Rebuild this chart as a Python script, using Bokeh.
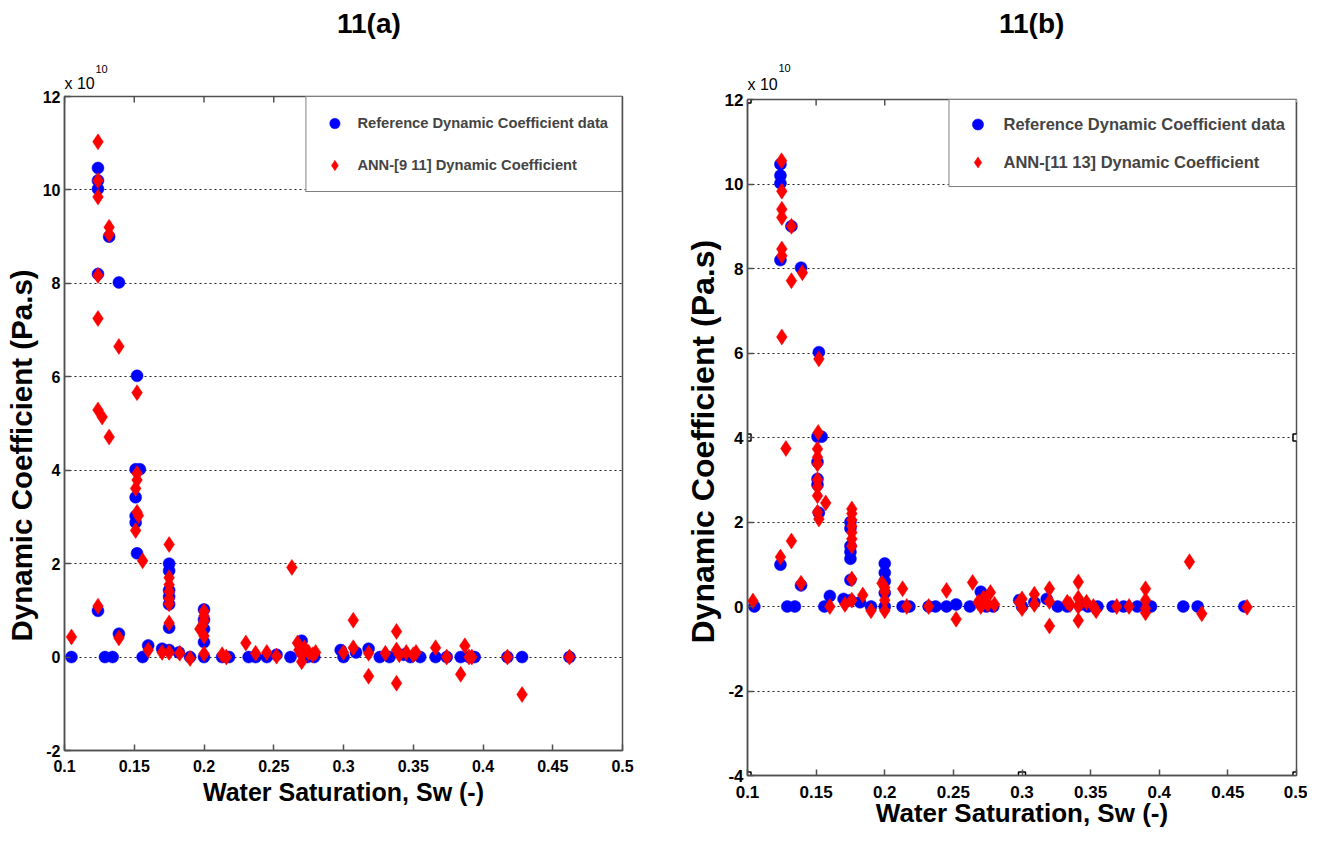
from bokeh.plotting import figure
from bokeh.models import Title, FixedTicker, Range1d, Div
from bokeh.layouts import row, column
from bokeh.embed import file_html
from bokeh.resources import INLINE

# ---------------- data (values in units of 1e10 Pa.s) ----------------
titles = ["11(a)", "11(b)"]
x_label = "Water Saturation, Sw (-)"
y_label = "Dynamic Coefficient (Pa.s)"
ref_legend = "Reference Dynamic Coefficient data"
ann_legends = ["ANN-[9 11] Dynamic Coefficient", "ANN-[11 13] Dynamic Coefficient"]
multiplier_base = "x 10"
multiplier_exp = "10"

x_ticks = [0.1, 0.15, 0.2, 0.25, 0.3, 0.35, 0.4, 0.45, 0.5]
x_tick_labels = ["0.1", "0.15", "0.2", "0.25", "0.3", "0.35", "0.4", "0.45", "0.5"]
y_ticks_a = [-2, 0, 2, 4, 6, 8, 10, 12]
y_ticks_b = [-4, -2, 0, 2, 4, 6, 8, 10, 12]

ref_sw = [0.105, 0.124, 0.124, 0.124, 0.124, 0.124, 0.129, 0.1345, 0.132, 0.139,
          0.139, 0.152, 0.151, 0.154, 0.151, 0.151, 0.151, 0.152, 0.156, 0.16,
          0.17, 0.175, 0.175, 0.175, 0.175, 0.175, 0.175, 0.175, 0.182, 0.19,
          0.2, 0.2, 0.2, 0.2, 0.2, 0.213, 0.218, 0.232, 0.237, 0.245,
          0.252, 0.262, 0.27, 0.27, 0.274, 0.279, 0.298, 0.3, 0.309, 0.318,
          0.326, 0.333, 0.343, 0.348, 0.355, 0.366, 0.374, 0.384, 0.39, 0.394,
          0.4175, 0.428, 0.462]
ref_dc = [0.0, 10.47, 10.2, 10.02, 8.2, 0.99, 0.0, 0.0, 9.0, 8.02,
          0.5, 6.02, 4.02, 4.02, 3.42, 3.02, 2.88, 2.22, 0.0, 0.25,
          0.18, 2.0, 1.85, 1.43, 1.29, 1.13, 0.63, 0.15, 0.1, 0.0,
          1.02, 0.8, 0.6, 0.32, 0.0, 0.0, 0.0, 0.0, 0.0, 0.0,
          0.05, 0.0, 0.35, 0.1, 0.0, 0.0, 0.15, 0.0, 0.1, 0.18,
          0.0, 0.0, 0.05, 0.0, 0.0, 0.0, 0.0, 0.0, 0.0, 0.0,
          0.0, 0.0, 0.0]

ann_a_sw = [0.105, 0.124, 0.124, 0.124, 0.124, 0.124, 0.124, 0.127, 0.132, 0.124,
            0.132, 0.132, 0.139, 0.139, 0.152, 0.152, 0.152, 0.151, 0.152, 0.153,
            0.151, 0.156, 0.16, 0.175, 0.175, 0.175, 0.175, 0.175, 0.175, 0.175,
            0.17, 0.175, 0.1826, 0.19, 0.2, 0.2, 0.2, 0.199, 0.197, 0.2,
            0.2, 0.213, 0.216, 0.23, 0.237, 0.245, 0.252, 0.263, 0.267, 0.268,
            0.27, 0.27, 0.272, 0.275, 0.278, 0.28, 0.3, 0.307, 0.307, 0.318,
            0.318, 0.33, 0.338, 0.338, 0.338, 0.34, 0.345, 0.35, 0.352, 0.366,
            0.374, 0.384, 0.387, 0.39, 0.392, 0.4175, 0.428, 0.462]
ann_a_dc = [0.43, 11.03, 10.2, 9.85, 8.17, 7.25, 5.29, 5.14, 4.71, 1.09,
            9.2, 9.05, 6.65, 0.41, 5.66, 3.93, 3.79, 3.61, 3.1, 3.03,
            2.71, 2.06, 0.15, 2.41, 1.7, 1.55, 1.4, 1.25, 1.14, 0.73,
            0.1, 0.1, 0.08, -0.03, 0.98, 0.88, 0.78, 0.68, 0.6, 0.45,
            0.07, 0.05, 0.0, 0.3, 0.08, 0.1, 0.02, 1.92, 0.3, 0.15,
            0.05, -0.1, 0.2, 0.1, 0.05, 0.1, 0.1, 0.79, 0.2, 0.08,
            -0.41, 0.08, 0.55, 0.15, -0.56, 0.05, 0.1, 0.05, 0.1, 0.2,
            0.0, -0.37, 0.24, 0.0, 0.0, 0.0, -0.8, 0.0]

ann_b_sw = [0.104, 0.1248, 0.125, 0.125, 0.125, 0.125, 0.125, 0.125, 0.124, 0.132,
            0.132, 0.14, 0.128, 0.132, 0.139, 0.152, 0.1515, 0.151, 0.151, 0.151,
            0.151, 0.151, 0.151, 0.151, 0.152, 0.157, 0.16, 0.176, 0.176, 0.176,
            0.176, 0.176, 0.176, 0.176, 0.176, 0.171, 0.176, 0.184, 0.19, 0.198,
            0.2, 0.2, 0.2, 0.2, 0.213, 0.216, 0.232, 0.245, 0.252, 0.264,
            0.268, 0.27, 0.272, 0.275, 0.277, 0.28, 0.298, 0.3, 0.3, 0.309,
            0.309, 0.32, 0.32, 0.32, 0.333, 0.335, 0.341, 0.341, 0.341, 0.341,
            0.347, 0.352, 0.354, 0.369, 0.378, 0.39, 0.39, 0.39, 0.39, 0.422,
            0.431, 0.464]
ann_b_dc = [0.13, 10.55, 9.83, 9.4, 9.21, 8.46, 8.3, 6.38, 1.17, 9.0,
            7.71, 7.9, 3.74, 1.55, 0.55, 5.86, 4.12, 3.73, 3.53, 3.37,
            3.0, 2.83, 2.62, 2.23, 2.07, 2.45, 0.0, 2.31, 2.2, 2.05,
            1.9, 1.75, 1.6, 1.43, 0.65, 0.05, 0.15, 0.27, -0.1, 0.55,
            0.45, 0.35, 0.15, -0.1, 0.42, 0.0, 0.0, 0.38, -0.3, 0.57,
            0.1, 0.0, 0.2, 0.05, 0.33, 0.05, 0.1, 0.18, -0.05, 0.29,
            0.05, 0.42, 0.12, -0.46, 0.1, 0.05, 0.58, 0.2, 0.0, -0.33,
            0.1, 0.0, -0.1, 0.0, 0.0, 0.42, 0.15, -0.05, -0.15, 1.06,
            -0.17, -0.02]

FONT = "Liberation Sans"
AXC = "#505050"


def header(title, width, height, o):
    html = (
        f'<div style="position:relative;width:{width}px;height:{height}px;'
        f"font-family:'Liberation Sans',Arial,sans-serif;color:black;margin:0;padding:0\">"
        f'<span style="position:absolute;left:{o["tx"]}px;top:{o["ty"]}px;font-size:28px;'
        f'font-weight:bold;line-height:32px;white-space:nowrap">{title}</span>'
        f'</div>'
    )
    return Div(text=html, width=width, height=height, margin=0)


def make_panel(ann_sw, ann_dc, ann_legend, y_ticks, width, height, borders, o):
    bl, br, bt, bb = borders
    ymin, ymax = y_ticks[0], y_ticks[-1]
    p = figure(width=width, height=height, output_backend="svg",
               toolbar_location=None, x_range=Range1d(0.1, 0.5),
               y_range=Range1d(ymin, ymax),
               min_border_left=bl, min_border_right=br,
               min_border_top=bt, min_border_bottom=bb, margin=0)
    p.background_fill_color = "white"
    p.border_fill_color = "white"
    p.outline_line_color = AXC
    p.outline_line_width = 1.5

    p.xgrid.visible = False
    p.ygrid.ticker = FixedTicker(ticks=y_ticks)
    p.ygrid.grid_line_color = "#222222"
    p.ygrid.grid_line_dash = "2 3"
    p.ygrid.grid_line_width = 1.2

    xa = p.xaxis[0]
    ya = p.yaxis[0]
    xa.ticker = FixedTicker(ticks=x_ticks)
    xa.major_label_overrides = {t: s for t, s in zip(x_ticks, x_tick_labels)}
    ya.ticker = FixedTicker(ticks=y_ticks)
    ya.major_label_overrides = {t: str(t) for t in y_ticks}
    for ax in (xa, ya):
        ax.axis_line_color = AXC
        ax.axis_line_width = 1.5
        ax.major_tick_in = 6
        ax.major_tick_out = 0
        ax.minor_tick_line_color = None
        ax.major_tick_line_color = AXC
        ax.major_tick_line_width = 1.5
        ax.major_label_text_font = FONT
        ax.major_label_text_font_style = "bold"
        ax.major_label_text_font_size = o["tick"]
        ax.major_label_text_color = "black"
        ax.axis_label_text_font = FONT
        ax.axis_label_text_font_style = "bold"
        ax.axis_label_text_color = "black"
    xa.axis_label = x_label
    xa.axis_label_text_font_size = o["xlabel"]
    xa.major_label_standoff = o["xstand"]
    xa.axis_label_standoff = o["xlstand"]
    ya.major_label_standoff = 4
    # y-axis title drawn as a side title so that it can be shifted along the axis
    p.add_layout(Title(text=y_label, align="left", offset=o["ylab_off"],
                       standoff=o["ylstand"], text_font=FONT,
                       text_font_style="bold", text_font_size=o["ylabel"],
                       text_color="black"), "left")
    # axis multiplier "x 10^10" above the top-left corner of the box
    p.add_layout(Title(text=multiplier_base, align="left", offset=0,
                       standoff=o["bs"], text_font=FONT, text_font_style="normal",
                       text_font_size="16px", text_color="black"), "above")
    p.add_layout(Title(text=multiplier_exp, align="left", offset=31,
                       standoff=o["es"], text_font=FONT, text_font_style="normal",
                       text_font_size="11px", text_color="black"), "above")

    # inward tick marks along the top edge of the box
    tick_len = 6 * (ymax - ymin) / o["frame_h"]
    p.segment(x0=x_ticks, y0=[ymax] * len(x_ticks), x1=x_ticks,
              y1=[ymax - tick_len] * len(x_ticks), line_color=AXC, line_width=1.5)

    p.scatter(ref_sw, ref_dc, marker="circle", size=12, fill_color="#0000FF",
              line_color="#0000FF", line_alpha=0.5, legend_label=ref_legend)
    p.scatter(ann_sw, ann_dc, marker="diamond", size=16, fill_color="#FF0000",
              line_color="#FF0000", line_alpha=0.5, legend_label=ann_legend)

    lg = p.legend[0]
    lg.location = "top_right"
    lg.margin = 0
    lg.border_line_color = "black"
    lg.border_line_width = 1.5
    lg.background_fill_alpha = 1
    lg.label_text_font = FONT
    lg.label_text_font_style = "bold"
    lg.label_text_font_size = o["legend"]
    lg.padding = o["lpad"]
    lg.spacing = o["lspace"]
    lg.label_height = o["lheight"]
    lg.glyph_height = o["lheight"]
    lg.glyph_width = o["gwidth"]
    lg.label_standoff = o["lstand"]
    lg.label_width = o["lwidth"]
    return p


opts_a = dict(tick="16px", xlabel="25px", xstand=9, xlstand=3, ylabel="29.5px",
              ylstand=4, ylab_off=109, legend="14.7px", lpad=13, lspace=16, lheight=26,
              gwidth=30, lstand=8, lwidth=240, frame_h=651, bs=10, es=-11,
              tx=337, ty=8)
opts_b = dict(tick="17px", xlabel="26px", xstand=10, xlstand=-3, ylabel="32px",
              ylstand=2, ylab_off=132, legend="16.5px", lpad=10, lspace=10, lheight=28,
              gwidth=36, lstand=8, lwidth=280, frame_h=676, bs=14, es=-11,
              tx=339, ty=8)

W1, W2 = 660, 647
H1, H2 = 60, 61
TOTAL_H = 831
p1 = make_panel(ann_a_sw, ann_a_dc, ann_legends[0], y_ticks_a,
                W1, TOTAL_H - H1, (59, 38, 36, 81), opts_a)
p2 = make_panel(ann_b_sw, ann_b_dc, ann_legends[1], y_ticks_b,
                W2, TOTAL_H - H2, (87, 11, 38, 56), opts_b)

# selection-handle squares drawn on the frame of panel (b)
hx0, hx1 = p2.x_range.start, p2.x_range.end
hy0, hy1 = p2.y_range.start, p2.y_range.end
hxm, hym = (hx0 + hx1) / 2, (hy0 + hy1) / 2
p2.scatter([hx0, hxm, hx1, hx0, hx1, hx0, hxm, hx1],
           [hy1, hy1, hy1, hym, hym, hy0, hy0, hy0],
           marker="square", size=7, fill_color="white", line_color="black",
           line_width=1.5)

layout = row(column(header(titles[0], W1, H1, opts_a), p1, spacing=0),
             column(header(titles[1], W2, H2, opts_b), p2, spacing=0), spacing=0)
open("out.html", "w").write(file_html(layout, INLINE))
